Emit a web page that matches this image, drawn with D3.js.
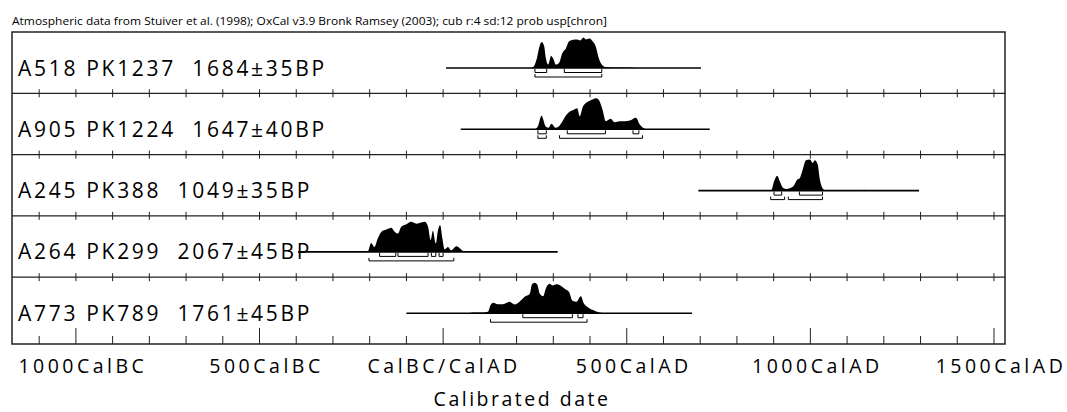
<!DOCTYPE html>
<html>
<head>
<meta charset="utf-8">
<script src="https://cdn.jsdelivr.net/npm/d3@7"></script>
<style>
  html, body { margin: 0; padding: 0; background: #ffffff; }
  text { white-space: pre; }
</style>
</head>
<body>
<div id="chart"></div>
<script>
///////////////////////////////////////////////////////////////////////////
// Data
///////////////////////////////////////////////////////////////////////////
const title = "Atmospheric data from Stuiver et al. (1998); OxCal v3.9 Bronk Ramsey (2003); cub r:4 sd:12 prob usp[chron]";

const sampleLabels = [
  "A518 PK1237  1684±35BP",
  "A905 PK1224  1647±40BP",
  "A245 PK388  1049±35BP",
  "A264 PK299  2067±45BP",
  "A773 PK789  1761±45BP"
];

// extent of the thin line under each distribution (cal years, AD positive)
const lineExtents = [
  [8, 702],
  [48, 726],
  [695, 1296],
  [-395, 312],
  [-100, 678]
];

// probability (relative to max) at calendar year
const densities = [
  [[236,0],[245,0.03],[255,0.3],[262,0.68],[268,0.84],[275,0.71],[280,0.3],[286,0.11],[294,0.39],[300,0.3],
   [307,0.11],[316,0.17],[325,0.49],[334,0.62],[343,0.86],[354,0.91],[365,0.92],[374,0.89],[382,0.98],[389,0.92],
   [398,0.95],[407,0.86],[416,0.68],[423,0.35],[432,0.11],[441,0.03],[459,0.02],[481,0.02],[518,0.01],[531,0]],
  [[250,0],[258,0.1],[268,0.44],[279,0.1],[287,0.05],[295,0.18],[306,0.05],[314,0.08],[322,0.2],[336,0.47],
   [346,0.58],[356,0.63],[365,0.68],[372,0.42],[381,0.74],[395,0.9],[408,0.97],[417,1],[425,0.93],[434,0.63],
   [443,0.26],[456,0.34],[467,0.23],[481,0.26],[495,0.26],[508,0.28],[525,0.37],[535,0.16],[544,0.05],[554,0]],
  [[885,0],[894,0.02],[901,0.29],[910,0.48],[917,0.29],[926,0.08],[935,0.05],[953,0.13],[964,0.35],[971,0.4],
   [979,0.67],[988,0.98],[999,1],[1006,0.89],[1012,0.98],[1020,0.84],[1026,0.35],[1033,0.08],[1040,0],[1100,0],
   [1108,0.02],[1115,0],[1140,0],[1146,0.03],[1152,0]],
  [[-240,0],[-228,0.03],[-215,0],[-205,0.02],[-196,0.29],[-187,0.16],[-178,0.43],[-168,0.65],[-155,0.72],[-141,0.78],
   [-132,0.65],[-123,0.59],[-114,0.81],[-100,0.89],[-87,0.97],[-73,0.91],[-59,0.95],[-50,0.97],[-41,0.81],[-34,0.38],
   [-28,0.68],[-20,0.27],[-14,0.7],[-8,0.86],[-2,0.43],[4,0.08],[13,0.16],[22,0.05],[36,0.18],[47,0.1],[54,0.03],[63,0]],
  [[70,0],[81,0.02],[99,0.02],[122,0.05],[129,0.26],[136,0.34],[149,0.29],[163,0.29],[181,0.37],[195,0.28],
   [208,0.37],[222,0.53],[236,0.63],[242,0.93],[249,0.98],[256,0.93],[263,0.63],[272,0.55],[281,0.84],[290,0.95],
   [299,0.89],[308,0.93],[319,0.89],[331,0.79],[343,0.68],[352,0.4],[363,0.37],[375,0.55],[383,0.32],[392,0.21],
   [408,0.1],[426,0.02],[440,0]]
];

// 68.2% and 95.4% ranges
const ranges68 = [
  [[250,282],[330,432]],
  [[258,281],[338,442],[517,533]],
  [[901,922],[970,1033]],
  [[-173,-129],[-123,-41],[-32,-20],[-11,0]],
  [[217,352],[367,381]]
];
const ranges95 = [
  [[250,432]],
  [[258,281],[317,543]],
  [[892,930],[940,1033]],
  [[-202,29]],
  [[129,392]]
];

const majorTicks = [-1000, -500, 0, 500, 1000, 1500];
const tickLabels = ["1000CalBC", "500CalBC", "CalBC/CalAD", "500CalAD", "1000CalAD", "1500CalAD"];
const minorTicks = d3.range(-1100, 1501, 100);

///////////////////////////////////////////////////////////////////////////
// Set up the SVG
///////////////////////////////////////////////////////////////////////////
const width = 1067;
const height = 412;
const box = { left: 12, right: 1005, top: 32, bottom: 344 };
const rowH = 61.3;
const peakH = 31;

const svg = d3.select("#chart")
  .append("svg")
  .attr("width", width)
  .attr("height", height)
  .style("background-color", "#ffffff");

const x = d3.scaleLinear()
  .domain([-1174, 1530])
  .range([box.left, box.right]);

const font = "'Open Sans', sans-serif";

// title
svg.append("text")
  .attr("x", 12)
  .attr("y", 25)
  .attr("font-family", font)
  .attr("font-size", "10.5px")
  .attr("fill", "#000")
  .attr("textLength", 595)
  .attr("lengthAdjust", "spacingAndGlyphs")
  .text(title);

///////////////////////////////////////////////////////////////////////////
// Rows
///////////////////////////////////////////////////////////////////////////
sampleLabels.forEach((label, i) => {
  const top = box.top + i * rowH;
  const base = top + 36;
  const y = d3.scaleLinear().domain([0, 1]).range([base, base - peakH]);

  const g = svg.append("g").attr("class", "row");

  // separator with crossing ticks
  if (i > 0) {
    g.append("line")
      .attr("x1", box.left).attr("x2", box.right)
      .attr("y1", top).attr("y2", top)
      .attr("stroke", "#222").attr("stroke-width", 1.2);
    g.selectAll(".sep-tick")
      .data(minorTicks)
      .join("line")
      .attr("class", "sep-tick")
      .attr("x1", d => x(d)).attr("x2", d => x(d))
      .attr("y1", top - 4).attr("y2", top + 4)
      .attr("stroke", "#222").attr("stroke-width", 1);
  }

  // thin line across the range
  g.append("line")
    .attr("x1", x(lineExtents[i][0])).attr("x2", x(lineExtents[i][1]))
    .attr("y1", base).attr("y2", base)
    .attr("stroke", "#000").attr("stroke-width", 1.6);

  // distribution
  const area = d3.area()
    .x(d => x(d[0]))
    .y0(base)
    .y1(d => y(d[1]))
    .curve(d3.curveMonotoneX);

  g.append("path")
    .datum(densities[i])
    .attr("d", area)
    .attr("fill", "#000");

  // range brackets
  const bracket = (r, lo, hi) =>
    `M${x(r[0])},${base + lo}V${base + hi}H${x(r[1])}V${base + lo}`;

  g.selectAll(".r68")
    .data(ranges68[i])
    .join("path")
    .attr("class", "r68")
    .attr("d", r => bracket(r, 1, 4.5))
    .attr("fill", "none").attr("stroke", "#000").attr("stroke-width", 1);

  g.selectAll(".r95")
    .data(ranges95[i])
    .join("path")
    .attr("class", "r95")
    .attr("d", r => bracket(r, 6, 9))
    .attr("fill", "none").attr("stroke", "#000").attr("stroke-width", 1);

  // sample label
  g.append("text")
    .attr("x", 18)
    .attr("y", base + 7.5)
    .attr("font-family", font)
    .attr("font-size", "21px")
    .attr("letter-spacing", "2.7px")
    .attr("fill", "#000")
    .text(label);
});

///////////////////////////////////////////////////////////////////////////
// Frame and bottom axis
///////////////////////////////////////////////////////////////////////////
svg.append("rect")
  .attr("x", box.left).attr("y", box.top)
  .attr("width", box.right - box.left)
  .attr("height", box.bottom - box.top)
  .attr("fill", "none")
  .attr("stroke", "#222")
  .attr("stroke-width", 1.5);

svg.selectAll(".minor-tick")
  .data(minorTicks)
  .join("line")
  .attr("class", "minor-tick")
  .attr("x1", d => x(d)).attr("x2", d => x(d))
  .attr("y1", box.bottom).attr("y2", d => box.bottom - (d % 500 === 0 ? 16 : 8))
  .attr("stroke", "#222").attr("stroke-width", 1);

// labels sit a little right of their tick, except the BC/AD one
svg.selectAll(".tick-label")
  .data(majorTicks)
  .join("text")
  .attr("class", "tick-label")
  .attr("x", d => x(d) + (d === 0 ? 1 : 7))
  .attr("y", 373)
  .attr("text-anchor", "middle")
  .attr("font-family", font)
  .attr("font-size", "19.5px")
  .attr("letter-spacing", "3.5px")
  .attr("fill", "#000")
  .text((d, i) => tickLabels[i]);

svg.append("text")
  .attr("x", 522)
  .attr("y", 406)
  .attr("text-anchor", "middle")
  .attr("font-family", font)
  .attr("font-size", "19.5px")
  .attr("letter-spacing", "2.5px")
  .attr("fill", "#000")
  .text("Calibrated date");
</script>
</body>
</html>
